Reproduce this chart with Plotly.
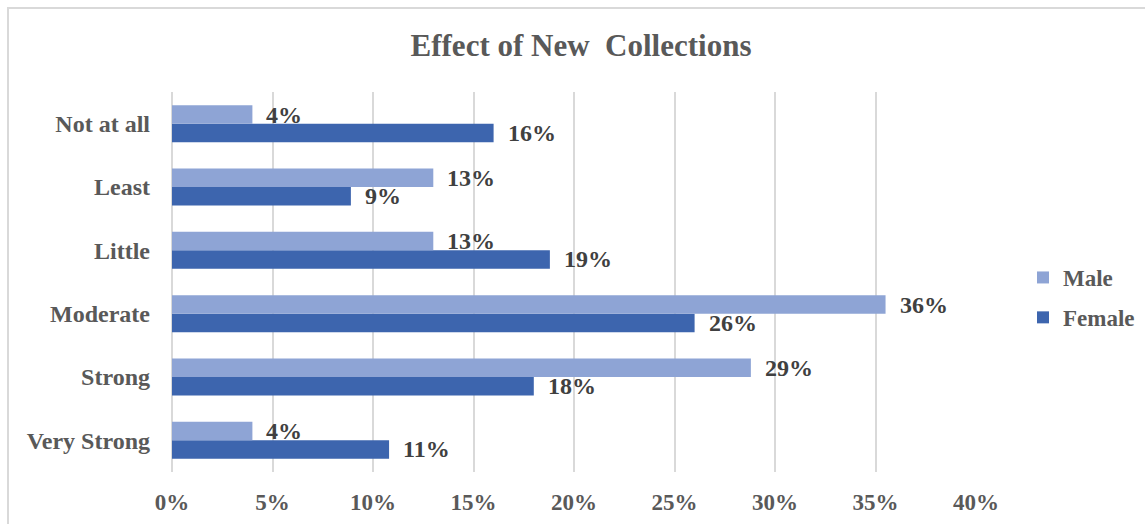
import plotly.graph_objects as go

# Survey responses: share of respondents by gender (percent)
categories = ["Very Strong", "Strong", "Moderate", "Little", "Least", "Not at all"]
male = [4.0, 28.8, 35.5, 13.0, 13.0, 4.0]
female = [10.8, 18.0, 26.0, 18.8, 8.9, 16.0]
tick_vals = [0, 5, 10, 15, 20, 25, 30, 35, 40]
tick_text = ["0%", "5%", "10%", "15%", "20%", "25%", "30%", "35%", "40%"]

W, H = 1145, 524
L, R, T, B = 172, 169, 92, 52
pw, ph = W - L - R, H - T - B

MALE_COLOR = "#8EA4D5"
FEMALE_COLOR = "#3D65AE"
TEXT_GRAY = "#595959"
LABEL_GRAY = "#404040"
SERIF = "Liberation Serif, Times New Roman, serif"

fig = go.Figure()
fig.add_trace(go.Bar(
    y=categories, x=female, orientation="h", name="<b>Female</b>",
    marker=dict(color=FEMALE_COLOR, line=dict(width=0)),
    legendgroup="f", legendrank=2,
))
fig.add_trace(go.Bar(
    y=categories, x=male, orientation="h", name="<b>Male</b>",
    marker=dict(color=MALE_COLOR, line=dict(width=0)),
    legendgroup="m", legendrank=1,
))

# value labels placed just past the end of each bar
annotations = []
for cat, m, f in zip(categories, male, female):
    annotations.append(dict(
        x=m, y=cat, xref="x", yref="y", text=f"<b>{m:.0f}%</b>",
        showarrow=False, xanchor="left", yanchor="middle",
        xshift=12, yshift=9,
        font=dict(family=SERIF, size=24, color=LABEL_GRAY),
    ))
    annotations.append(dict(
        x=f, y=cat, xref="x", yref="y", text=f"<b>{f:.0f}%</b>",
        showarrow=False, xanchor="left", yanchor="middle",
        xshift=12, yshift=-9,
        font=dict(family=SERIF, size=24, color=LABEL_GRAY),
    ))

# outer chart frame
frame = dict(
    type="rect", xref="paper", yref="paper", layer="below",
    x0=(8 - L) / pw, x1=(W + 10 - L) / pw,
    y0=(H - B - (H + 10)) / ph, y1=(H - B - 8) / ph,
    line=dict(color="#D9D9D9", width=2), fillcolor="rgba(0,0,0,0)",
)

fig.update_layout(
    width=W, height=H,
    margin=dict(l=L, r=R, t=T, b=B, autoexpand=False),
    paper_bgcolor="white", plot_bgcolor="white",
    barmode="group", bargap=0.415, bargroupgap=0,
    title=dict(
        text="<b>Effect of New\u00a0 Collections</b>",
        x=(581 - L) / pw, xref="paper", xanchor="center",
        y=1 - 45 / H, yref="container", yanchor="middle",
        font=dict(family=SERIF, size=31, color=TEXT_GRAY),
    ),
    xaxis=dict(
        range=[0, 40], tickvals=tick_vals, ticktext=[f"<b>{t}</b>" for t in tick_text],
        showgrid=True, gridcolor="#D9D9D9", gridwidth=2,
        zeroline=True, zerolinecolor="#D9D9D9", zerolinewidth=2,
        showline=False, ticks="", ticklabelstandoff=14,
        tickfont=dict(family=SERIF, size=23, color=TEXT_GRAY),
        fixedrange=True,
    ),
    yaxis=dict(
        categoryorder="array", categoryarray=categories,
        tickvals=categories, ticktext=[f"<b>{c}</b>" for c in categories],
        showgrid=False, zeroline=False, showline=False, ticks="",
        ticklabelstandoff=21,
        tickfont=dict(family=SERIF, size=24, color=TEXT_GRAY),
        fixedrange=True,
    ),
    legend=dict(
        x=(1023 - L) / pw, xanchor="left", y=(H - B - 256) / ph, yanchor="top",
        traceorder="grouped", tracegroupgap=7,
        font=dict(family=SERIF, size=23, color=TEXT_GRAY),
        bgcolor="rgba(0,0,0,0)",
    ),
    annotations=annotations,
    shapes=[frame],
    showlegend=True,
)

fig.write_html("out.html")
